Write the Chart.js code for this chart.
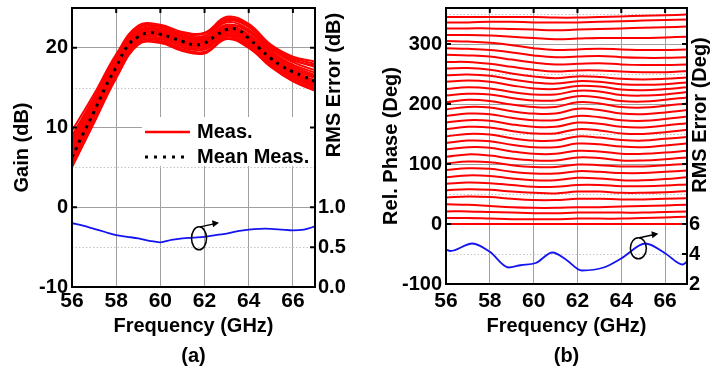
<!DOCTYPE html>
<html>
<head>
<meta charset="utf-8">
<script src="https://cdn.jsdelivr.net/npm/chart.js@4.4.1/dist/chart.umd.min.js"></script>
<style>
  html, body { margin: 0; padding: 0; background: #fff; }
  #wrap { position: relative; width: 710px; height: 367px; }
  canvas { position: absolute; top: 0; }
  #gainChart { left: 0; }
  #phaseChart { left: 355px; }
</style>
</head>
<body>
<div id="wrap">
  <canvas id="gainChart" width="355" height="367"></canvas>
  <canvas id="phaseChart" width="355" height="367"></canvas>
</div>
<script>
// frequency points (GHz)
var freqCoarse = [56, 57, 58, 59, 60, 61, 62, 63, 64, 65, 66, 67];
var freqFine = [56, 56.5, 57, 57.5, 58, 58.5, 59, 59.5, 60, 60.5, 61, 61.5, 62, 62.5, 63, 63.5, 64, 64.5, 65, 65.5, 66, 66.5, 67];
var freqTicks = [56, 58, 60, 62, 64, 66];

// (a) gain of each measured state, dB (on freqCoarse)
var gainMeas = [
  [9.6, 14.2, 19.2, 22.8, 22.9, 22.0, 21.9, 23.9, 23.0, 20.4, 18.9, 18.3],
  [9.0, 13.8, 19.0, 22.6, 22.7, 21.8, 21.8, 23.7, 22.8, 20.1, 18.5, 17.6],
  [8.8, 13.6, 18.4, 21.9, 22.0, 21.3, 21.5, 23.5, 22.7, 20.2, 18.7, 18.0],
  [8.5, 13.5, 18.7, 22.4, 22.6, 21.6, 21.5, 23.4, 22.6, 19.9, 18.2, 17.2],
  [8.1, 13.2, 18.5, 22.2, 22.4, 21.5, 21.4, 23.2, 22.3, 19.6, 17.9, 16.9],
  [7.9, 13.1, 18.0, 21.6, 21.7, 20.9, 21.0, 22.8, 22.2, 19.8, 18.4, 17.8],
  [7.7, 13.0, 18.3, 22.0, 22.2, 21.3, 21.2, 22.9, 22.0, 19.4, 17.7, 16.6],
  [7.3, 12.7, 18.1, 21.9, 22.1, 21.2, 21.1, 22.7, 21.7, 19.2, 17.5, 16.4],
  [7.0, 12.5, 17.9, 21.7, 21.9, 21.0, 20.9, 22.5, 21.5, 19.0, 17.3, 16.2],
  [6.8, 12.4, 18.2, 22.1, 22.3, 21.2, 20.8, 22.2, 21.0, 18.5, 16.8, 15.4],
  [6.6, 12.2, 17.7, 21.5, 21.8, 20.9, 20.8, 22.4, 21.3, 18.8, 17.1, 15.9],
  [6.3, 11.9, 17.5, 21.3, 21.6, 20.7, 20.6, 22.2, 21.1, 18.6, 16.9, 15.7],
  [6.0, 11.7, 17.3, 21.2, 21.5, 20.6, 20.4, 22.0, 20.9, 18.4, 16.7, 15.5],
  [5.8, 11.4, 17.1, 21.0, 21.3, 20.4, 20.2, 21.8, 20.7, 18.2, 16.5, 15.3],
  [5.6, 11.2, 16.8, 20.8, 21.1, 20.2, 20.0, 21.6, 20.5, 18.0, 16.3, 15.1],
  [5.4, 11.0, 16.6, 20.7, 20.9, 20.0, 19.8, 21.4, 20.3, 17.9, 16.1, 14.9],
  [5.2, 10.8, 16.4, 20.5, 20.7, 19.8, 19.5, 21.2, 20.1, 17.7, 15.9, 14.7],
  [5.0, 10.6, 16.2, 20.4, 20.6, 19.6, 19.3, 21.1, 20.0, 17.6, 15.8, 14.6]
];
// mean gain, dB (on freqFine)
var gainMean = [6.3, 9.2, 12.0, 15.0, 17.6, 20.2, 21.4, 21.9, 21.7, 21.3, 20.8, 20.4, 20.6, 21.5, 22.3, 22.3, 21.2, 19.9, 18.7, 17.7, 17.0, 16.4, 15.8];
// RMS gain error, dB (on freqFine)
var gainRmsErr = [0.80, 0.77, 0.73, 0.69, 0.65, 0.63, 0.61, 0.58, 0.56, 0.59, 0.61, 0.62, 0.63, 0.65, 0.67, 0.70, 0.72, 0.73, 0.73, 0.72, 0.71, 0.72, 0.76];

var gainTicks = [-10, 0, 10, 20];
var gainMinorTicks = [-5, 5, 15];
var gainRmsTicks = [0, 0.5, 1.0];

// (b) relative phase of each state, deg (on freqCoarse)
var phaseMeas = [
  [0, 0, 0, 0, 0, 0, 0, 0, 0, 0, 0, 0],
  [10, 10, 9, 8, 8, 8, 9, 9, 9, 10, 11, 12],
  [21, 21, 20, 19, 18, 18, 19, 19, 19, 19, 20, 21],
  [33, 32, 30, 28, 27, 27, 28, 28, 29, 30, 31, 32],
  [44, 46, 45, 42, 40, 40, 42, 42, 41, 41, 42, 43],
  [56, 58, 57, 54, 52, 51, 54, 54, 52, 52, 53, 55],
  [67, 69, 68, 65, 62, 62, 65, 65, 63, 63, 64, 66],
  [78, 81, 80, 76, 73, 73, 77, 76, 73, 73, 75, 78],
  [90, 93, 92, 87, 84, 84, 88, 87, 85, 85, 87, 89],
  [101, 104, 103, 98, 95, 95, 99, 98, 96, 96, 98, 100],
  [112, 116, 114, 109, 106, 106, 111, 110, 106, 106, 108, 111],
  [124, 128, 127, 121, 117, 117, 122, 121, 117, 117, 119, 122],
  [135, 139, 138, 132, 128, 128, 134, 133, 129, 128, 131, 134],
  [146, 150, 149, 143, 139, 139, 146, 144, 140, 139, 142, 145],
  [158, 162, 161, 155, 151, 151, 158, 156, 151, 150, 153, 157],
  [169, 173, 172, 166, 162, 162, 169, 167, 162, 161, 164, 168],
  [180, 184, 183, 177, 173, 173, 180, 178, 173, 172, 175, 179],
  [191, 195, 194, 188, 184, 184, 192, 190, 184, 183, 186, 190],
  [203, 207, 205, 199, 195, 195, 203, 201, 195, 194, 197, 201],
  [214, 217, 216, 210, 206, 206, 213, 211, 205, 204, 207, 211],
  [225, 228, 226, 220, 216, 216, 222, 221, 215, 214, 216, 220],
  [237, 239, 237, 231, 226, 225, 230, 229, 224, 223, 225, 228],
  [248, 249, 247, 241, 236, 234, 238, 237, 233, 232, 233, 236],
  [259, 260, 257, 251, 246, 243, 246, 245, 242, 241, 242, 244],
  [270, 270, 267, 262, 257, 254, 256, 256, 254, 253, 253, 255],
  [282, 281, 279, 274, 269, 266, 267, 268, 266, 265, 265, 266],
  [293, 292, 290, 286, 281, 278, 279, 280, 278, 277, 277, 278],
  [305, 304, 302, 298, 293, 290, 291, 292, 291, 290, 290, 291],
  [315, 315, 314, 312, 310, 308, 309, 310, 310, 310, 311, 312],
  [326, 326, 326, 325, 324, 323, 324, 325, 326, 327, 328, 329],
  [336, 336, 337, 337, 336, 336, 336, 337, 338, 339, 340, 341],
  [345, 345, 345, 345, 345, 344, 344, 345, 346, 347, 348, 349]
];
// RMS phase error, deg
var phaseRmsFreq = [56, 56.2, 57.2, 58, 58.85, 59.4, 60.1, 60.86, 61.5, 62.2, 63.2, 64.0, 65.1, 66.0, 66.8, 67];
var phaseRmsErr = [4.3, 4.2, 4.7, 4.15, 3.1, 3.25, 3.4, 4.1, 3.6, 2.9, 3.1, 3.7, 4.7, 4.05, 3.3, 3.5];

var phaseTicks = [-100, 0, 100, 200, 300];
var phaseMinorTicks = [-50, 50, 150, 250, 350];
var phaseRmsTicks = [2, 4, 6];

var FONT = '"Liberation Sans", Arial, sans-serif';
Chart.defaults.color = '#000';
Chart.defaults.font.family = FONT;

function pts(xs, ys) {
    return ys.map(function (y, i) { return { x: xs[i], y: y }; });
}
function tickList(vals) {
    return function (s) { s.ticks = vals.map(function (v) { return { value: v }; }); };
}
function fixSize(w, h) {
    return function (s) {
        if (w !== null) s.width = w;
        if (h !== null) s.height = h;
        s.paddingTop = 0; s.paddingBottom = 0; s.paddingLeft = 0; s.paddingRight = 0;
    };
}

// grid minors, frame, inner ticks, right title, note and legend
function decor(cfg) {
    return {
        id: 'decor',
        beforeDatasetsDraw: function (chart) {
            var ctx = chart.ctx, a = chart.chartArea, y = chart.scales.y;
            ctx.save();
            if (cfg.legend) {
                ctx.fillStyle = '#fff';
                ctx.fillRect(a.left + 70, a.top + 109, 171, 49);
            }
            ctx.strokeStyle = '#c4c4c4';
            ctx.lineWidth = 1;
            ctx.setLineDash([1.5, 2]);
            cfg.minor.forEach(function (v) {
                var py = Math.round(y.getPixelForValue(v)) + 0.5;
                ctx.beginPath(); ctx.moveTo(a.left, py); ctx.lineTo(a.right, py); ctx.stroke();
            });
            ctx.restore();
        },
        afterDatasetsDraw: function (chart) {
            var ctx = chart.ctx, a = chart.chartArea;
            var sx = chart.scales.x, sy = chart.scales.y, sy2 = chart.scales.y2;
            ctx.save();

            // ellipse + arrow pointing at right axis
            var cx = sx.getPixelForValue(cfg.note.x), cy = sy.getPixelForValue(cfg.note.y);
            ctx.strokeStyle = '#000';
            ctx.fillStyle = '#000';
            ctx.lineWidth = 1.5;
            ctx.beginPath();
            ctx.ellipse(cx, cy, cfg.note.rx, cfg.note.ry, 0, 0, Math.PI * 2);
            ctx.stroke();
            var x0 = cx + 1, y0 = cy - cfg.note.ry, x1 = cx + 20, y1 = cy - cfg.note.ry - 4;
            ctx.beginPath(); ctx.moveTo(x0, y0); ctx.lineTo(x1 - 5, y1 + 1); ctx.stroke();
            ctx.beginPath();
            ctx.moveTo(x1, y1); ctx.lineTo(x1 - 7, y1 - 2.5); ctx.lineTo(x1 - 6, y1 + 4.5);
            ctx.closePath(); ctx.fill();

            if (cfg.legend) {
                ctx.strokeStyle = '#ff0000';
                ctx.lineWidth = 2.5;
                ctx.beginPath(); ctx.moveTo(a.left + 73, a.top + 124); ctx.lineTo(a.left + 118, a.top + 124); ctx.stroke();
                ctx.strokeStyle = '#000';
                ctx.lineWidth = 3;
                ctx.setLineDash([3, 6]);
                ctx.beginPath(); ctx.moveTo(a.left + 73, a.top + 149); ctx.lineTo(a.left + 113, a.top + 149); ctx.stroke();
                ctx.setLineDash([]);
                ctx.font = 'bold 20px ' + FONT;
                ctx.textAlign = 'left';
                ctx.textBaseline = 'middle';
                ctx.fillText('Meas.', a.left + 125, a.top + 124);
                ctx.fillText('Mean Meas.', a.left + 125, a.top + 149);
            }

            // frame
            ctx.strokeStyle = '#000';
            ctx.lineWidth = 2;
            ctx.strokeRect(a.left, a.top, a.right - a.left, a.bottom - a.top);

            // short inward ticks
            ctx.beginPath();
            freqTicks.forEach(function (v) {
                var px = sx.getPixelForValue(v);
                ctx.moveTo(px, a.top); ctx.lineTo(px, a.top + 5);
            });
            cfg.majorY.forEach(function (v) {
                var py = sy.getPixelForValue(v);
                ctx.moveTo(a.left, py); ctx.lineTo(a.left + 5, py);
                ctx.moveTo(a.right - 5, py); ctx.lineTo(a.right, py);
            });
            cfg.majorY2.forEach(function (v) {
                var py = sy2.getPixelForValue(v);
                ctx.moveTo(a.right - 5, py); ctx.lineTo(a.right, py);
            });
            ctx.stroke();

            // right axis title
            ctx.translate(a.right + cfg.titleDx, cfg.titleY);
            ctx.rotate(-Math.PI / 2);
            ctx.font = 'bold 20px ' + FONT;
            ctx.textAlign = 'center';
            ctx.textBaseline = 'middle';
            ctx.fillText(cfg.rightTitle, 0, 0);
            ctx.restore();
        }
    };
}

var tickFontX = { family: FONT, size: 21, weight: 'bold' };
var tickFontY = { family: FONT, size: 20, weight: 'bold' };
var titleFont = { family: FONT, size: 20, weight: 'bold', lineHeight: 1.5 };
var gridColor = '#a0a0a0';

// ---------- (a) gain ----------
var gainSets = [
    { data: pts(freqFine, gainMean), borderColor: '#000', borderWidth: 3, borderDash: [3, 5], pointRadius: 0, tension: 0.4, yAxisID: 'y' },
    { data: pts(freqFine, gainRmsErr), borderColor: '#1414f0', borderWidth: 1.8, pointRadius: 0, tension: 0.3, yAxisID: 'y2' }
].concat(gainMeas.map(function (g) {
    return { data: pts(freqCoarse, g), borderColor: '#ff0000', borderWidth: 2, pointRadius: 0, tension: 0.4, yAxisID: 'y' };
}));

new Chart(document.getElementById('gainChart'), {
    type: 'line',
    data: { datasets: gainSets },
    options: {
        responsive: false,
        animation: false,
        events: [],
        layout: { padding: { top: 8, left: 0, right: 0, bottom: 0 } },
        plugins: { legend: { display: false }, tooltip: { enabled: false } },
        scales: {
            x: {
                type: 'linear', min: 56, max: 67,
                afterBuildTicks: tickList(freqTicks),
                afterFit: fixSize(null, 80),
                grid: { color: gridColor, drawTicks: false },
                border: { display: false },
                ticks: { padding: 2, font: tickFontX, maxRotation: 0, autoSkip: false },
                title: { display: true, text: ['Frequency (GHz)', '(a)'], font: titleFont, padding: { top: 0, bottom: -4 } }
            },
            y: {
                position: 'left', min: -10, max: 25,
                afterBuildTicks: tickList(gainTicks),
                afterFit: fixSize(72, null),
                grid: { color: gridColor, drawTicks: false },
                border: { display: false },
                ticks: { padding: 4, font: tickFontY, autoSkip: false },
                title: { display: true, text: 'Gain (dB)', font: titleFont, padding: { top: 7, bottom: 0 } }
            },
            y2: {
                position: 'right', min: 0, max: 3.5,
                afterBuildTicks: tickList(gainRmsTicks),
                afterFit: fixSize(40, null),
                grid: { drawOnChartArea: false, drawTicks: false },
                border: { display: false },
                ticks: { padding: 3, font: tickFontY, autoSkip: false, callback: function (v) { return v.toFixed(1); } }
            }
        }
    },
    plugins: [decor({
        minor: gainMinorTicks, majorY: gainTicks, majorY2: gainRmsTicks,
        rightTitle: 'RMS Error (dB)', titleDx: 19, titleY: 85,
        note: { x: 61.75, y: -3.9, rx: 7.5, ry: 11.5 },
        legend: true
    })]
});

// ---------- (b) phase ----------
var phaseSets = [
    { data: pts(phaseRmsFreq, phaseRmsErr), borderColor: '#1414f0', borderWidth: 1.8, pointRadius: 0, cubicInterpolationMode: 'monotone', yAxisID: 'y2' }
].concat(phaseMeas.map(function (p) {
    return { data: pts(freqCoarse, p), borderColor: '#ff0000', borderWidth: 2, pointRadius: 0, tension: 0.4, yAxisID: 'y' };
}));

new Chart(document.getElementById('phaseChart'), {
    type: 'line',
    data: { datasets: phaseSets },
    options: {
        responsive: false,
        animation: false,
        events: [],
        layout: { padding: { top: 8, left: 0, right: 0, bottom: 0 } },
        plugins: { legend: { display: false }, tooltip: { enabled: false } },
        scales: {
            x: {
                type: 'linear', min: 56, max: 67,
                afterBuildTicks: tickList(freqTicks),
                afterFit: fixSize(null, 83),
                grid: { color: gridColor, drawTicks: false },
                border: { display: false },
                ticks: { padding: 5, font: tickFontX, maxRotation: 0, autoSkip: false },
                title: { display: true, text: ['Frequency (GHz)', '(b)'], font: titleFont, padding: { top: 0, bottom: -4 } }
            },
            y: {
                position: 'left', min: -100, max: 360,
                afterBuildTicks: tickList(phaseTicks),
                afterFit: fixSize(91, null),
                grid: { color: gridColor, drawTicks: false },
                border: { display: false },
                ticks: { padding: 4, font: tickFontY, autoSkip: false },
                title: { display: true, text: 'Rel. Phase (Deg)', font: titleFont, padding: { top: 21, bottom: 0 } }
            },
            y2: {
                position: 'right', min: 2, max: 20.4,
                afterBuildTicks: tickList(phaseRmsTicks),
                afterFit: fixSize(23, null),
                grid: { drawOnChartArea: false, drawTicks: false },
                border: { display: false },
                ticks: { padding: 2, font: tickFontY, autoSkip: false }
            }
        }
    },
    plugins: [decor({
        minor: phaseMinorTicks, majorY: phaseTicks, majorY2: phaseRmsTicks,
        rightTitle: 'RMS Error (Deg)', titleDx: 13, titleY: 115,
        note: { x: 64.78, y: -40.5, rx: 8, ry: 10.5 },
        legend: false
    })]
});
</script>
</body>
</html>
